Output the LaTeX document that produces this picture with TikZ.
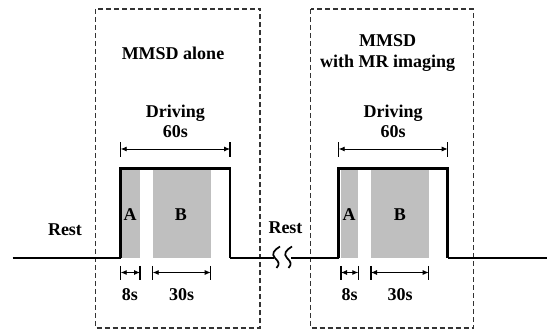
\documentclass[tikz,border=0pt]{standalone}
\usepackage{fontspec}
\setmainfont{Liberation Serif}
\usetikzlibrary{arrows.meta}
\begin{document}
\begin{tikzpicture}[x=1pt,y=-1pt,
  lbl/.style={font=\fontsize{18}{20.5}\selectfont\bfseries, inner sep=0pt, align=center},
  phase/.style={draw=black!80, dash pattern=on 5pt off 3pt, line width=1.4pt},
  gbar/.style={fill=black!25, draw=none},
  pulse/.style={line width=2.6pt, line join=miter},
  base/.style={line width=1.8pt},
  dim/.style={line width=0.9pt, {Latex[length=6pt,width=5pt]}-{Latex[length=6pt,width=5pt]}},
  tick/.style={line width=1.4pt}]
\useasboundingbox (0,0) rectangle (547,331);
% dashed phase boxes
\draw[phase] (95.5,9) rectangle (260,328);
\draw[phase] (310.7,9) rectangle (473.3,328);
% gray bars
\fill[gbar] (120.7,168.3) rectangle (140,258);
\fill[gbar] (152.7,168.3) rectangle (210.7,258);
\fill[gbar] (341,168.3) rectangle (358.3,258);
\fill[gbar] (371,168.3) rectangle (428.7,258);
% coordinates
\coordinate (s0) at (12.7,258);
\coordinate (r1) at (120.7,258);
\coordinate (f1) at (230,258);
\coordinate (b1) at (274,258);
\coordinate (b2) at (291,258);
\coordinate (r2) at (338.7,258);
\coordinate (f2) at (447.7,258);
\coordinate (e0) at (547,258);
% signal
\draw[base] (s0) -- (r1);
\draw[pulse] (r1) -- (120.7,168.3) -- (230,168.3) -- (f1);
\draw[base] (f1) -- (b1);
\draw[base] (b2) -- (r2);
\draw[pulse] (r2) -- (338.7,168.3) -- (447.7,168.3) -- (f2);
\draw[base] (f2) -- (e0);
% break marks
\draw[line width=1.7pt] (280,246.5) .. controls (274,250) and (271,254) .. (275,258)
   .. controls (279,262) and (280,264) .. (276.5,268);
\draw[line width=1.7pt] (292,246.5) .. controls (286,250) and (283,254) .. (287,258)
   .. controls (291,262) and (292,264) .. (288.5,268);
% texts
\node[lbl] (t1) at (173,53) {MMSD alone};
\node[lbl] (t2) at (387.7,53) {MMSD\\with MR imaging};
\node[lbl] (d1) at (175.3,121.5) {Driving\\60s};
\node[lbl] (d2) at (393.2,121.5) {Driving\\60s};
\node[lbl] (rest1) at (65,230) {Rest};
\node[lbl] (rest2) at (285.5,228) {Rest};
\node[lbl] (a1) at (130,214.5) {A};
\node[lbl] (bb1) at (181,214.5) {B};
\node[lbl] (a2) at (349,214.5) {A};
\node[lbl] (bb2) at (400,214.5) {B};
\node[lbl] (s8a) at (130,295) {8s};
\node[lbl] (s30a) at (181.7,295) {30s};
\node[lbl] (s8b) at (349.7,295) {8s};
\node[lbl] (s30b) at (400,295) {30s};
% 60s dimension
\foreach \x/\n in {120.7/ta,230/tb,338.7/tc,447.7/td}{
  \coordinate (\n) at (\x,149);
  \draw[tick] (\x,142.5) -- (\x,157);
}
\draw[dim] (ta) -- (tb);
\draw[dim] (tc) -- (td);
% bottom dimensions
\foreach \x/\n in {120.7/ua,140/ub,152.7/uc,210.7/ud,341/ue,358.3/uf,371/ug,428.7/uh}{
  \coordinate (\n) at (\x,272.5);
  \draw[tick] (\x,266) -- (\x,280);
}
\draw[dim] (ua) -- (ub);
\draw[dim] (uc) -- (ud);
\draw[dim] (ue) -- (uf);
\draw[dim] (ug) -- (uh);
\end{tikzpicture}
\end{document}
